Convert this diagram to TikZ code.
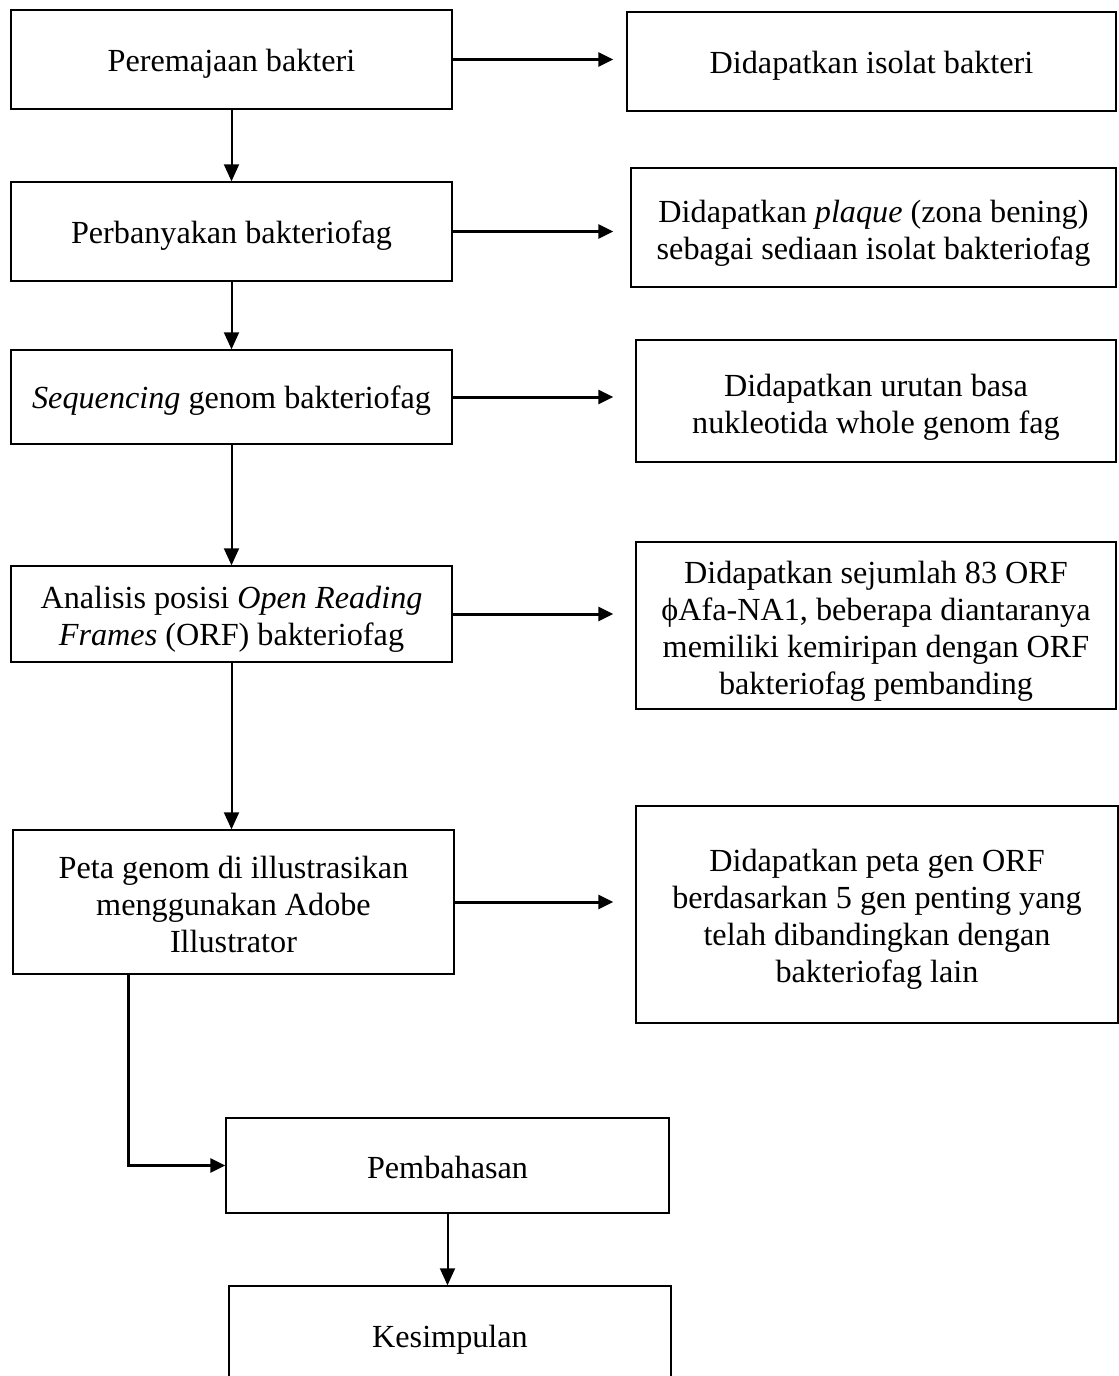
\documentclass[tikz,border=0pt]{standalone}
\usepackage{fontspec}
\setmainfont{Liberation Serif}
\usetikzlibrary{arrows.meta,calc}
\begin{document}
\begin{tikzpicture}[x=1pt,y=-1pt,
  frame/.style={draw, line width=1.4pt, inner sep=0pt},
  txt/.style={inner sep=0pt, align=center, font=\fontsize{32.2}{37}\selectfont},
  varrow/.style={line width=2pt, -{Triangle[length=17pt,width=15pt]}},
  harrow/.style={line width=3pt, -{Triangle[length=15pt,width=14pt]}}]
\path[use as bounding box, fill=white] (0,0) rectangle (1119,1376);
\clip (0,0) rectangle (1119,1376);
% left column frames
\node[frame, minimum width=441pt, minimum height=99pt] (L1) at (231.5,59.5) {};
\node[frame, minimum width=441pt, minimum height=99pt] (L2) at (231.5,231.5) {};
\node[frame, minimum width=441pt, minimum height=94pt] (L3) at (231.5,397) {};
\node[frame, minimum width=441pt, minimum height=96pt] (L4) at (231.5,614) {};
\node[frame, minimum width=441pt, minimum height=144pt] (L5) at (233.5,902) {};
\node[frame, minimum width=443pt, minimum height=95pt] (P) at (447.5,1165.5) {};
\node[frame, minimum width=442pt, minimum height=110pt] (K) at (450,1341) {};
% right column frames
\node[frame, minimum width=489pt, minimum height=99pt] (R1) at (871.5,61.5) {};
\node[frame, minimum width=485pt, minimum height=119pt] (R2) at (873.5,227.5) {};
\node[frame, minimum width=480pt, minimum height=122pt] (R3) at (876,401) {};
\node[frame, minimum width=480pt, minimum height=167pt] (R4) at (876,625.5) {};
\node[frame, minimum width=482pt, minimum height=217pt] (R5) at (877,914.5) {};
% texts
\node[txt] (L1t) at ($(L1)+(0,4)$) {Peremajaan bakteri};
\node[txt] (L2t) at ($(L2)+(0,4)$) {Perbanyakan bakteriofag};
\node[txt] (L3t) at ($(L3)+(0,4)$) {\textit{Sequencing} genom bakteriofag};
\node[txt] (L4t) at ($(L4)+(0,5)$) {Analisis posisi \textit{Open Reading}\\\textit{Frames} (ORF) bakteriofag};
\node[txt] (L5t) at ($(L5)+(0,2)$) {Peta genom di illustrasikan\\menggunakan Adobe\\Illustrator};
\node[txt] (Pt) at ($(P)+(0,2)$) {Pembahasan};
\node[txt] (Kt) at ($(K)+(0,-1)$) {Kesimpulan};
\node[txt] (R1t) at ($(R1)+(0,4)$) {Didapatkan isolat bakteri};
\node[txt] (R2t) at ($(R2)+(0,6)$) {Didapatkan \textit{plaque} (zona bening)\\sebagai sediaan isolat bakteriofag};
\node[txt] (R3t) at ($(R3)+(0,6)$) {Didapatkan urutan basa\\nukleotida whole genom fag};
\node[txt] (R4t) at ($(R4)+(0,6)$) {Didapatkan sejumlah 83 ORF\\ϕAfa-NA1, beberapa diantaranya\\memiliki kemiripan dengan ORF\\bakteriofag pembanding};
\node[txt] (R5t) at ($(R5)+(0,5)$) {Didapatkan peta gen ORF\\berdasarkan 5 gen penting yang\\telah dibandingkan dengan\\bakteriofag lain};
% vertical arrows
\draw[varrow] (L1.south) -- (L1.south |- L2.north);
\draw[varrow] (L2.south) -- (L2.south |- L3.north);
\draw[varrow] (L3.south) -- (L3.south |- L4.north);
\draw[varrow] (L4.south) -- (L4.south |- L5.north);
\draw[varrow] (P.south) -- (P.south |- K.north);
% horizontal arrows
\draw[harrow, shorten >=13pt] (L1.east) -- (L1.east -| R1.west);
\draw[harrow, shorten >=17pt] (L2.east) -- (L2.east -| R2.west);
\draw[harrow, shorten >=22pt] (L3.east) -- (L3.east -| R3.west);
\draw[harrow, shorten >=22pt] (L4.east) -- (L4.east -| R4.west);
\draw[harrow, shorten >=22pt] (L5.east) -- (L5.east -| R5.west);
% elbow
\coordinate (e) at ($(L5.south west)!0.263!(L5.south east)$);
\draw[harrow] (e) |- (P.west);
\end{tikzpicture}
\end{document}
